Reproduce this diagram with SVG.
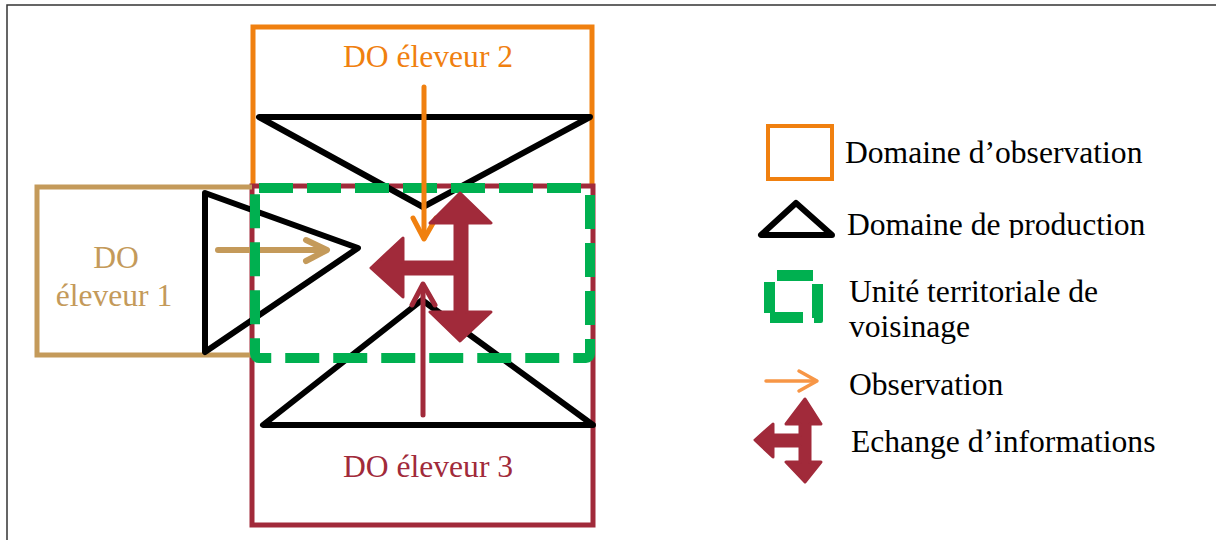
<svg xmlns="http://www.w3.org/2000/svg" width="1216" height="540" viewBox="0 0 1216 540">
<style>
  text { font-family: "Liberation Serif", "Times New Roman", serif; font-size: 31.6px; }
  .lbl { fill: #000; }
  .or { fill: #F0800F; }
  .tan { fill: #C49A5A; }
  .mar { fill: #A12A3A; }
  .tri { fill: none; stroke: #000; stroke-width: 6; stroke-linejoin: round; stroke-linecap: round; }
  .utv { fill: none; stroke: #00B050; stroke-width: 10; stroke-dasharray: 34 14; }
  .xch { fill: #A12A3A; stroke: #A12A3A; stroke-width: 3; stroke-linejoin: round; }
</style>
<defs>
  <clipPath id="clipProd"><rect x="840" y="190" width="340" height="48"/></clipPath>
</defs>
<rect width="1216" height="540" fill="#fff"/>
<g id="frame" fill="none" stroke="#333" stroke-width="1.5">
  <path d="M7,540 V5 H1216"/>
</g>
<g id="do2">
  <path d="M253,186 V27 H592 V186" fill="none" stroke="#F0800F" stroke-width="5"/>
  <text x="428" y="67" text-anchor="middle" class="or">DO éleveur 2</text>
</g>
<g id="do3">
  <path d="M252,186 V525 H593 V186 Z" fill="none" stroke="#A12A3A" stroke-width="5"/>
  <text x="428" y="477" text-anchor="middle" class="mar">DO éleveur 3</text>
</g>
<g id="do1">
  <path d="M252,187 H37 V355 H252" fill="none" stroke="#C49A5A" stroke-width="5"/>
  <text x="116" y="268" text-anchor="middle" class="tan">DO</text>
  <text x="114" y="306" text-anchor="middle" class="tan">éleveur 1</text>
</g>
<g id="dp2"><polygon class="tri" points="259,117 590,117 423,207"/></g>
<g id="dp1"><polygon class="tri" points="205,193 358,248 205,352"/></g>
<g id="dp3"><polygon class="tri" points="263,425 593,425 422,300"/></g>
<g id="connectors">
  <g id="obs1" fill="none" stroke="#C49A5A" stroke-width="6" stroke-linecap="round" stroke-linejoin="round">
    <path d="M218,250 H326"/>
    <path d="M306,240 L327,250 L306,261"/>
  </g>
  <g id="utv"><rect class="utv" x="255" y="188" width="335" height="170" rx="4"/></g>
  <g id="obs2" fill="none" stroke="#F0800F" stroke-width="5" stroke-linecap="round" stroke-linejoin="round">
    <path d="M424,87 V238"/>
    <path d="M413,218 L424,239 L436,218"/>
  </g>
  <g id="obs3" fill="none" stroke="#A12A3A" stroke-width="5" stroke-linecap="round" stroke-linejoin="round">
    <path d="M423,415 V286"/>
    <path d="M412,305 L423,284 L435,305"/>
  </g>
  <g id="exchange">
    <path class="xch" d="M460,193 L491,223 L467,223 L467,312 L491,312 L460,341 L430,312 L455,312 L455,274 L403,274 L403,297 L371,268 L403,238 L403,262 L455,262 L455,223 L430,223 Z"/>
  </g>
</g>
<g id="legend">
  <g id="leg-do">
    <rect x="768" y="126" width="64" height="53" fill="none" stroke="#F0800F" stroke-width="4"/>
    <text x="845" y="163" class="lbl">Domaine d’observation</text>
  </g>
  <g id="leg-dp">
    <polygon class="tri" points="761,235 832,235 796,203" stroke-width="5"/>
    <text x="847" y="235" class="lbl" clip-path="url(#clipProd)">Domaine de production</text>
  </g>
  <g id="leg-utv">
    <g fill="#00B050">
      <rect x="777" y="270" width="36" height="11"/>
      <path d="M764,282 H775 V312 H803 V323 H770 V313 H764 Z"/>
      <path d="M812,284 H823 V321 Q823,323 821,323 H814 V318 H812 Z"/>
    </g>
    <text x="849" y="302" class="lbl">Unité territoriale de</text>
    <text x="849" y="337" class="lbl">voisinage</text>
  </g>
  <g id="leg-obs">
    <g fill="none" stroke="#F79646" stroke-width="3.5" stroke-linecap="round" stroke-linejoin="round">
      <path d="M766,381 H816"/>
      <path d="M799,371 L817,381 L799,391"/>
    </g>
    <text x="849" y="395" class="lbl">Observation</text>
  </g>
  <g id="leg-xch">
    <path class="xch" d="M805,399 L821,424 L810,424 L810,462 L821,462 L805,482 L786,462 L800,462 L800,446 L773,446 L773,457 L755,440 L773,424 L773,435 L800,435 L800,424 L786,424 Z"/>
    <text x="851" y="452" class="lbl">Echange d’informations</text>
  </g>
</g>
</svg>
